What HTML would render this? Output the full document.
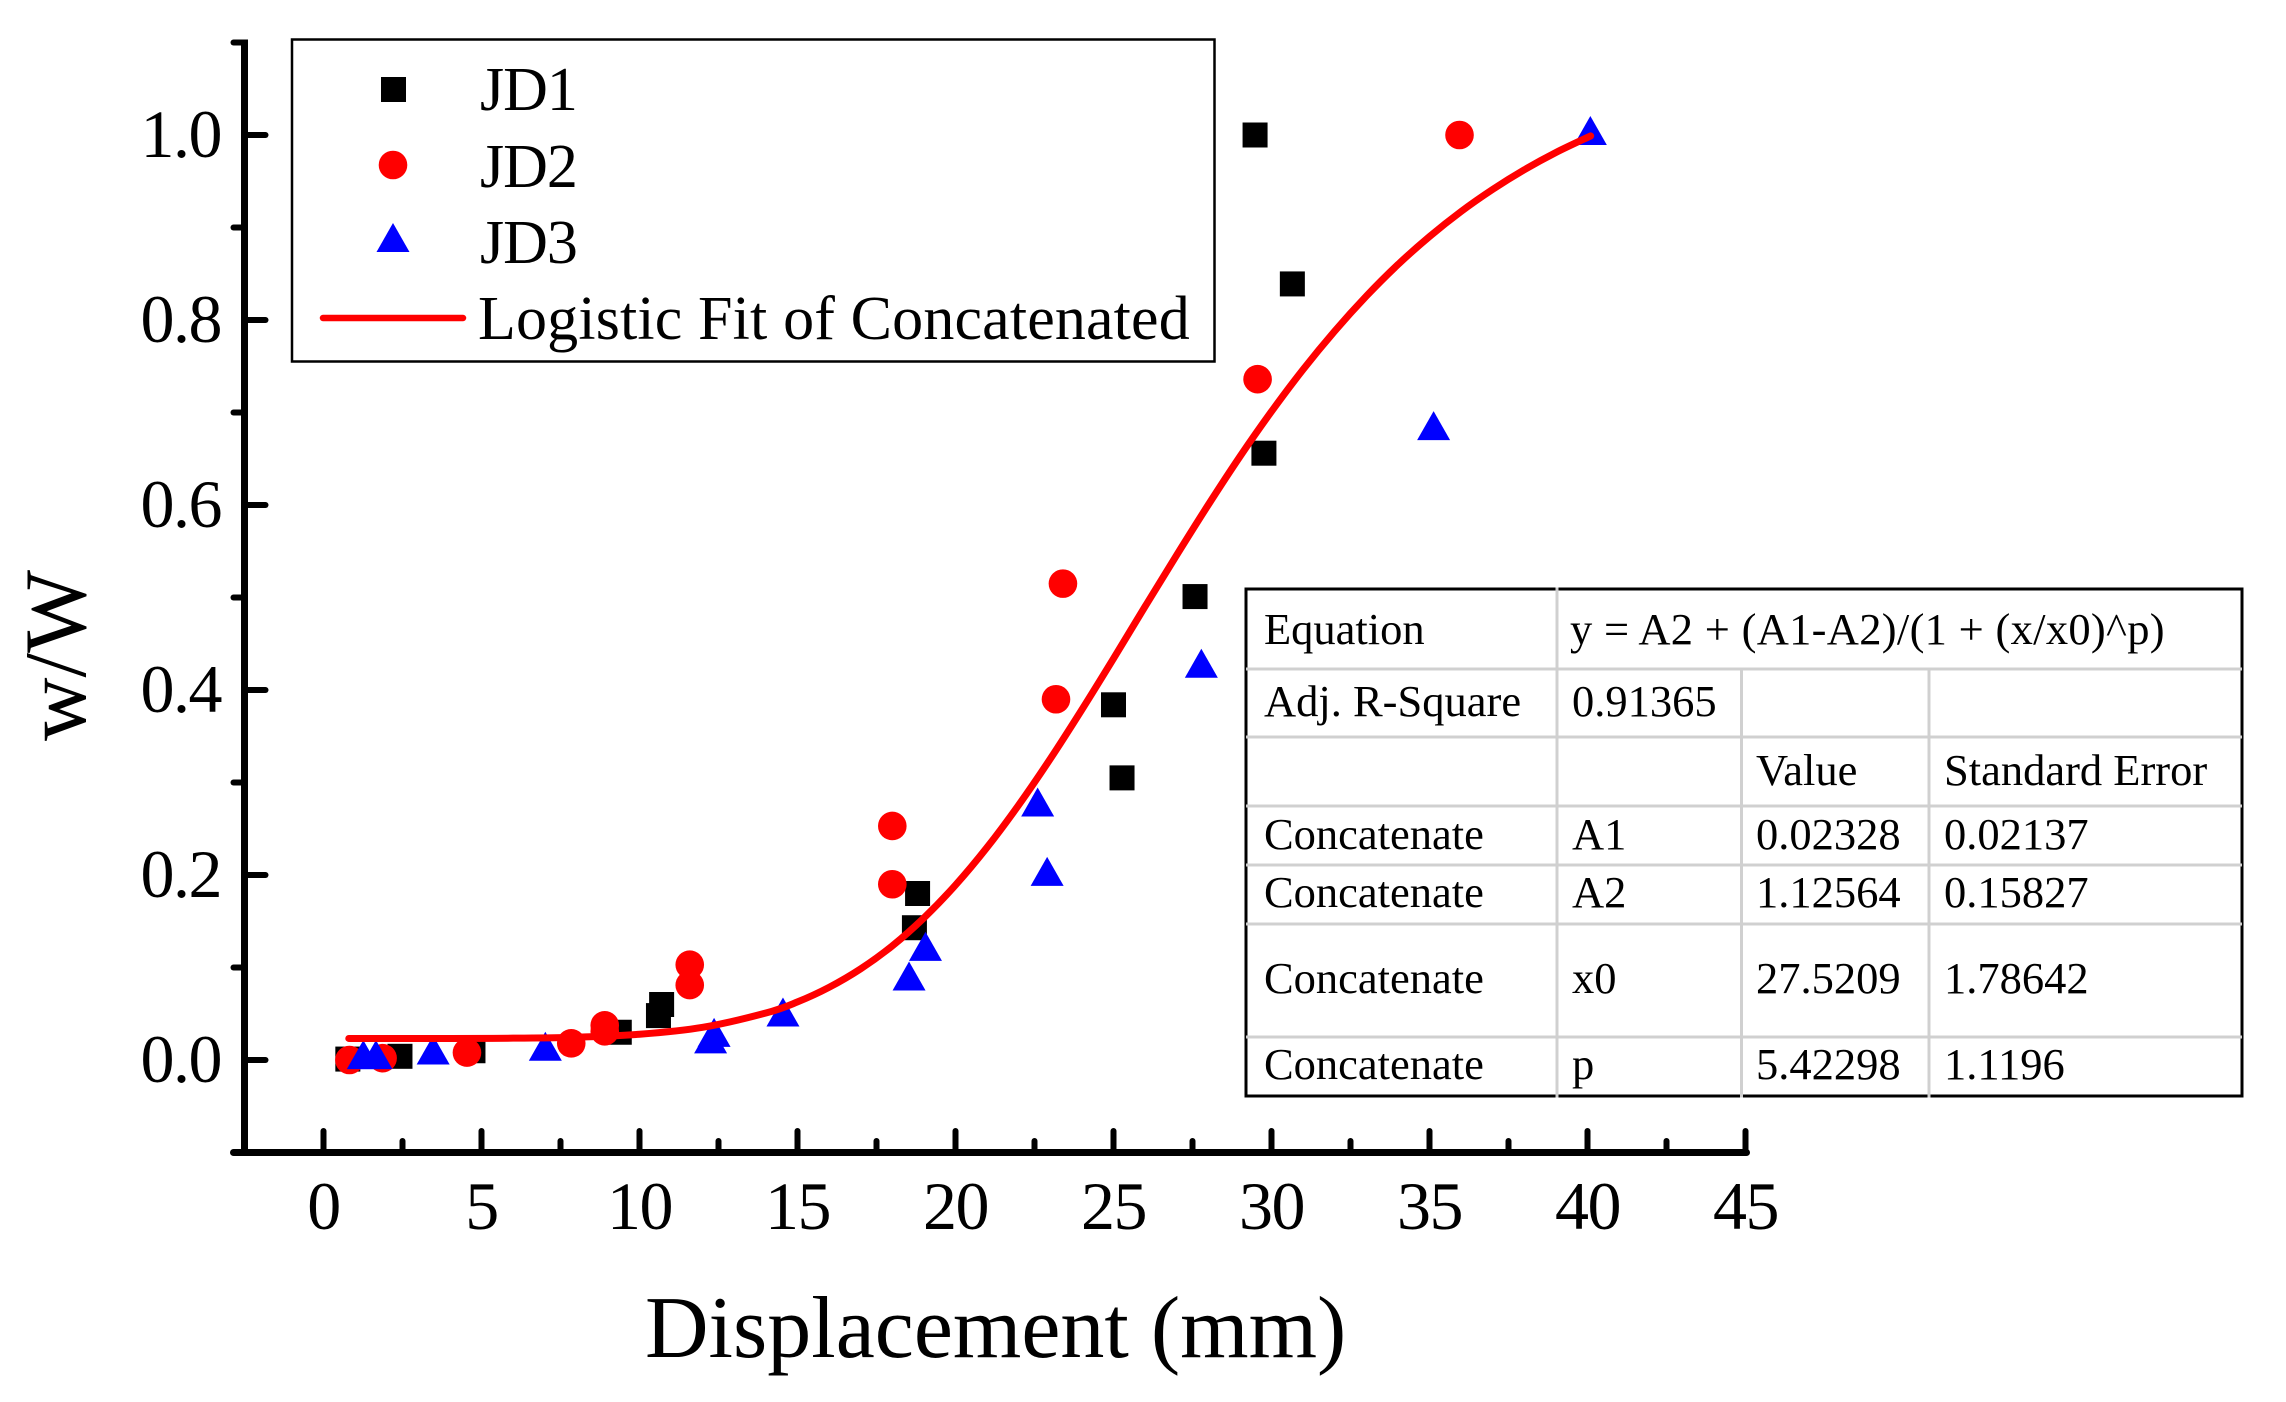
<!DOCTYPE html>
<html lang="en">
<head>
<meta charset="utf-8">
<title>Displacement vs w/W logistic fit</title>
<style>
html,body{margin:0;padding:0;background:#fff;}
body{width:2286px;height:1402px;overflow:hidden;}
svg{display:block;}
text{font-family:"Liberation Serif",serif;fill:#000;}
.cell{font-size:44.5px;}
.legend-text{font-size:62px;}
.tick-label{font-size:68px;letter-spacing:-1.5px;}
.axis-title{font-size:88px;}
</style>
</head>
<body>
<svg id="chart" xmlns="http://www.w3.org/2000/svg" width="2286" height="1402" viewBox="0 0 2286 1402">
  <g id="axes"></g>
  <g id="marks"></g>

  <text class="axis-title" x="645" y="1357">Displacement (mm)</text>
  <text class="axis-title" transform="translate(85,741) rotate(-90)">w/W</text>

  <g>
    <rect x="292" y="39.5" width="922.5" height="322" fill="#fff" stroke="#000" stroke-width="2.5"/>
    <rect x="381" y="77" width="25" height="25" fill="#000"/>
    <circle cx="393" cy="165" r="14.3" fill="#f00"/>
    <polygon points="393,223 409.5,252 376.5,252" fill="#00f"/>
    <line x1="323" y1="318" x2="463" y2="318" stroke="#f00" stroke-width="6.5" stroke-linecap="round"/>
    <text class="legend-text" x="480" y="110" letter-spacing="-1">JD1</text>
    <text class="legend-text" x="480" y="187" letter-spacing="-1">JD2</text>
    <text class="legend-text" x="480" y="263" letter-spacing="-1">JD3</text>
    <text class="legend-text" x="478" y="339" letter-spacing="0.15">Logistic Fit of Concatenated</text>
  </g>

  <g>
    <rect x="1246" y="589" width="996" height="507" fill="#fff" stroke="#000" stroke-width="3"/>
    <g stroke="#d0d0d0" stroke-width="3">
      <line x1="1246" y1="669" x2="2242" y2="669"/>
      <line x1="1246" y1="737" x2="2242" y2="737"/>
      <line x1="1246" y1="806" x2="2242" y2="806"/>
      <line x1="1246" y1="865" x2="2242" y2="865"/>
      <line x1="1246" y1="924" x2="2242" y2="924"/>
      <line x1="1246" y1="1037" x2="2242" y2="1037"/>
      <line x1="1557" y1="587.5" x2="1557" y2="1097.5"/>
      <line x1="1741.5" y1="669" x2="1741.5" y2="1097.5"/>
      <line x1="1929" y1="669" x2="1929" y2="1097.5"/>
    </g>
    <text class="cell" x="1264" y="644">Equation</text>
    <text class="cell" x="1570" y="644" letter-spacing="0.3">y = A2 + (A1-A2)/(1 + (x/x0)^p)</text>
    <text class="cell" x="1264" y="716">Adj. R-Square</text>
    <text class="cell" x="1572" y="716">0.91365</text>
    <text class="cell" x="1756" y="785">Value</text>
    <text class="cell" x="1944" y="785">Standard Error</text>
    <text class="cell" x="1264" y="849">Concatenate</text>
    <text class="cell" x="1572" y="849">A1</text>
    <text class="cell" x="1756" y="849">0.02328</text>
    <text class="cell" x="1944" y="849">0.02137</text>
    <text class="cell" x="1264" y="907">Concatenate</text>
    <text class="cell" x="1572" y="907">A2</text>
    <text class="cell" x="1756" y="907">1.12564</text>
    <text class="cell" x="1944" y="907">0.15827</text>
    <text class="cell" x="1264" y="993">Concatenate</text>
    <text class="cell" x="1572" y="993">x0</text>
    <text class="cell" x="1756" y="993">27.5209</text>
    <text class="cell" x="1944" y="993">1.78642</text>
    <text class="cell" x="1264" y="1079">Concatenate</text>
    <text class="cell" x="1572" y="1079">p</text>
    <text class="cell" x="1756" y="1079">5.42298</text>
    <text class="cell" x="1944" y="1079">1.1196</text>
  </g>
</svg>
<script>
const xTickValues = [0, 5, 10, 15, 20, 25, 30, 35, 40, 45];
const xMinorTickValues = [2.5, 7.5, 12.5, 17.5, 22.5, 27.5, 32.5, 37.5, 42.5];
const yTickLabels = ["0.0", "0.2", "0.4", "0.6", "0.8", "1.0"];
const yTickValues = [0, 0.2, 0.4, 0.6, 0.8, 1.0];
const yMinorTickValues = [-0.1, 0.1, 0.3, 0.5, 0.7, 0.9, 1.1];

const jd1X = [0.77, 2.42, 4.73, 9.36, 10.6, 10.7, 18.8, 18.7, 25.27, 25.0, 27.58, 29.76, 30.66, 29.48];
const jd1Y = [0.001, 0.004, 0.01, 0.03, 0.048, 0.06, 0.18, 0.143, 0.305, 0.384, 0.501, 0.656, 0.839, 1.0];

const jd2X = [0.82, 1.87, 4.54, 7.84, 8.9, 8.9, 11.59, 11.59, 18.0, 18.0, 23.18, 23.4, 29.56, 35.95];
const jd2Y = [0.0, 0.002, 0.008, 0.018, 0.031, 0.0375, 0.081, 0.103, 0.19, 0.253, 0.39, 0.515, 0.736, 1.0];

const jd3X = [1.26, 1.66, 3.47, 7.02, 12.25, 12.36, 14.54, 18.53, 19.05, 22.6, 22.9, 27.78, 35.13, 40.09];
const jd3Y = [0.001, 0.001, 0.006, 0.01, 0.018, 0.025, 0.047, 0.086, 0.118, 0.274, 0.199, 0.424, 0.681, 1.0];

const fitX = [0.8, 4, 6, 8, 10, 12, 14, 15, 16, 17, 18, 19, 20, 21, 22, 23, 24, 25, 26, 27, 28, 29, 30, 31, 32, 33, 34, 35, 36, 37, 38, 39, 40.1];
const fitY = [0.0233, 0.0233, 0.0236, 0.0246, 0.0278, 0.0353, 0.0508, 0.0628, 0.0786, 0.0986, 0.1234, 0.1536, 0.1891, 0.2299, 0.2757, 0.3256, 0.3788, 0.434, 0.4903, 0.5459, 0.6002, 0.6523, 0.7011, 0.7465, 0.788, 0.8258, 0.8599, 0.8902, 0.9173, 0.9412, 0.9624, 0.9811, 0.999];

const NS = "http://www.w3.org/2000/svg";
const axesGroup = document.getElementById("axes");
const marksGroup = document.getElementById("marks");

function sx(v) { return 323.5 + 31.6 * v; }
function sy(v) { return 1060 - 925 * v; }

function make(tag, attrs, parent) {
  const el = document.createElementNS(NS, tag);
  for (const k in attrs) el.setAttribute(k, attrs[k]);
  parent.appendChild(el);
  return el;
}

function tick(x1, y1, x2, y2, name) {
  const el = make("line", { x1: x1, y1: y1, x2: x2, y2: y2, stroke: "#000", "stroke-width": 6, "stroke-linecap": "round" }, axesGroup);
  
  
}

const yAxisLine = make("line", { x1: sx(-2.5), y1: sy(1.1) - 3, x2: sx(-2.5), y2: sy(-0.1) + 3, stroke: "#000", "stroke-width": 7 }, axesGroup);



const xAxisLine = make("line", { x1: sx(-2.5) - 11, y1: sy(-0.1), x2: sx(45) + 1, y2: sy(-0.1), stroke: "#000", "stroke-width": 7, "stroke-linecap": "round" }, axesGroup);



xTickValues.forEach(function (v) {
  tick(sx(v), sy(-0.1), sx(v), 1131, 'x-major-tick');
  const label = make("text", { x: sx(v), y: 1229, "text-anchor": "middle", class: "tick-label" }, axesGroup);
  
  
  label.textContent = String(v);
});
xMinorTickValues.forEach(function (v) {
  tick(sx(v), sy(-0.1), sx(v), 1141, 'x-minor-tick');
});
yTickValues.forEach(function (v, i) {
  tick(sx(-2.5), sy(v), sx(-2.5) + 21, sy(v), 'y-major-tick');
  const label = make("text", { x: 221, y: sy(v) + 22, "text-anchor": "end", class: "tick-label" }, axesGroup);
  
  
  label.textContent = yTickLabels[i];
});
yMinorTickValues.forEach(function (v) {
  tick(sx(-2.5), sy(v), sx(-2.5) - 11, sy(v), 'y-minor-tick');
});

jd1X.forEach(function (x, i) {
  const el = make("rect", { x: sx(x) - 12.5, y: sy(jd1Y[i]) - 12.5, width: 25, height: 25, fill: "#000" }, marksGroup);
  
  
});
jd2X.forEach(function (x, i) {
  const el = make("circle", { cx: sx(x), cy: sy(jd2Y[i]), r: 14.3, fill: "#f00" }, marksGroup);
  
  
});
jd3X.forEach(function (x, i) {
  const px = sx(x), py = sy(jd3Y[i]);
  const pts = px + "," + (py - 19) + " " + (px + 16.5) + "," + (py + 10) + " " + (px - 16.5) + "," + (py + 10);
  const el = make("polygon", { points: pts, fill: "#00f" }, marksGroup);
  
  
});

function fitPath() {
  const p = fitX.map(function (x, i) { return [sx(x), sy(fitY[i])]; });
  let d = "M" + p[0][0] + " " + p[0][1];
  for (let i = 0; i < p.length - 1; i++) {
    const a = p[Math.max(i - 1, 0)], b = p[i], c = p[i + 1], e = p[Math.min(i + 2, p.length - 1)];
    const c1x = b[0] + (c[0] - a[0]) / 6, c1y = b[1] + (c[1] - a[1]) / 6;
    const c2x = c[0] - (e[0] - b[0]) / 6, c2y = c[1] - (e[1] - b[1]) / 6;
    d += "C" + c1x + " " + c1y + " " + c2x + " " + c2y + " " + c[0] + " " + c[1];
  }
  return d;
}
const fitLine = make("path", { d: fitPath(), fill: "none", stroke: "#f00", "stroke-width": 7, "stroke-linecap": "round", "stroke-linejoin": "round" }, marksGroup);


</script>
</body>
</html>
